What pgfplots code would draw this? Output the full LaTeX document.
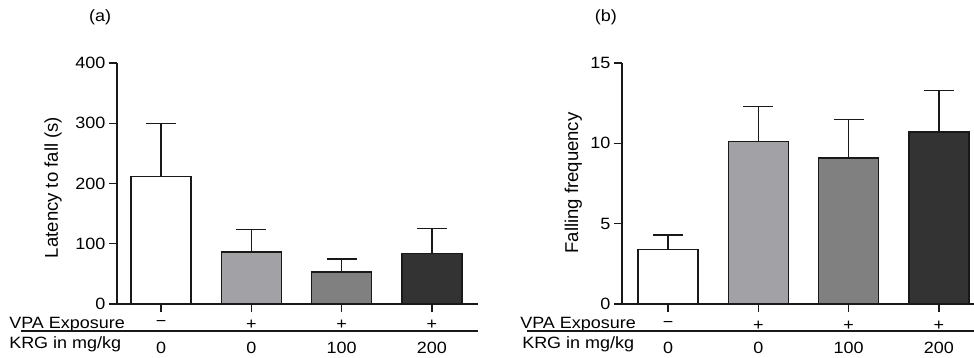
\documentclass[border=0pt]{standalone}
\usepackage{pgfplots}
\pgfplotsset{compat=1.18}
\usepackage{fontspec}
\setmainfont{Liberation Sans}[FakeStretch=1.1]
\newfontfamily\labfont{Liberation Sans}
\definecolor{barA}{RGB}{255,255,255}
\definecolor{barB}{RGB}{161,161,166}
\definecolor{barC}{RGB}{128,128,128}
\definecolor{barD}{RGB}{51,51,51}
\definecolor{ink}{RGB}{25,25,25}
\newcommand{\fs}{\fontsize{12.25}{14.7}\selectfont}
\pgfplotsset{
  panel/.style={
    scale only axis, clip=false,
    axis x line*=bottom, axis y line*=left,
    axis line style={-, line width=1.1pt, ink},
    ymin=0,
    xtick={0,1,2,3},
    xticklabels={\raisebox{2.25pt}{−},+,+,+},
    extra x ticks={0,1,2,3},
    extra x tick labels={0,0,100,200},
    extra x tick style={major tick length=0pt, xticklabel style={yshift=-23.5pt}},
    tick align=outside, major tick length=6pt,
    tick style={line width=1.1pt, ink},
    tick label style={font=\fs},
    xticklabel style={anchor=base, inner sep=0pt, yshift=-13.5pt},
    yticklabel style={inner sep=2.5pt},
    /pgf/number format/assume math mode=true,
    ylabel style={font=\labfont\fontsize{13.9}{16}\selectfont, anchor=center},
    title style={font=\fs, anchor=center},
  },
  bar/.style={ybar, bar width=45pt, bar shift=0pt, draw=ink, line width=1.1pt, fill=#1,
    error bars/.cd, y dir=plus, y explicit,
    error bar style={line width=1.1pt, ink},
    error mark options={rotate=90, mark size=11.25pt, line width=1.1pt, ink}},
}
\begin{document}
\begin{tikzpicture}[font=\fs]
\useasboundingbox (0,0) rectangle (730.5pt,267.75pt);
% panel (a)
\begin{axis}[panel, at={(87.75pt,39.75pt)}, anchor=south west,
  width=270.75pt, height=180.75pt,
  xmin=-0.49, xmax=3.51, ymax=400, ytick={0,100,200,300,400},
  ylabel={Latency to fall (s)},
  ylabel style={at={(axis description cs:-0.1773,0.4834)}},
  title={(a)}, title style={at={(axis description cs:-0.047,1.158)}}]
\addplot[bar=barA] coordinates {(0,212) +- (0,88)};
\addplot[bar=barB] coordinates {(1,86) +- (0,38)};
\addplot[bar=barC] coordinates {(2,53) +- (0,22)};
\addplot[bar=barD] coordinates {(3,84) +- (0,41)};
\end{axis}
% panel (b)
\begin{axis}[panel, at={(466.5pt,39.75pt)}, anchor=south west,
  width=264pt, height=180.75pt,
  xmin=-0.51, xmax=3.39, ymax=15, ytick={0,5,10,15},
  ylabel={Falling frequency},
  ylabel style={at={(axis description cs:-0.1384,0.502)}},
  title={(b)}, title style={at={(axis description cs:-0.046,1.158)}}]
\addplot[bar=barA] coordinates {(0,3.4) +- (0,0.9)};
\addplot[bar=barB] coordinates {(1,10.1) +- (0,2.2)};
\addplot[bar=barC] coordinates {(2,9.1) +- (0,2.4)};
\addplot[bar=barD] coordinates {(3,10.7) +- (0,2.6)};
\end{axis}
% row labels and separator lines
\node[anchor=base west, inner sep=0pt] at (6.75pt,21.75pt) {VPA Exposure};
\node[anchor=base west, inner sep=0pt] at (6.75pt,6.75pt) {KRG in mg/kg};
\draw[line width=1.1pt, ink] (15.75pt,19.5pt) -- (358.5pt,19.5pt);
\node[anchor=base west, inner sep=0pt] at (390pt,21.75pt) {VPA Exposure};
\node[anchor=base west, inner sep=0pt] at (391.5pt,6.75pt) {KRG in mg/kg};
\draw[line width=1.1pt, ink] (395.25pt,19.5pt) -- (730.5pt,19.5pt);
\end{tikzpicture}
\end{document}
